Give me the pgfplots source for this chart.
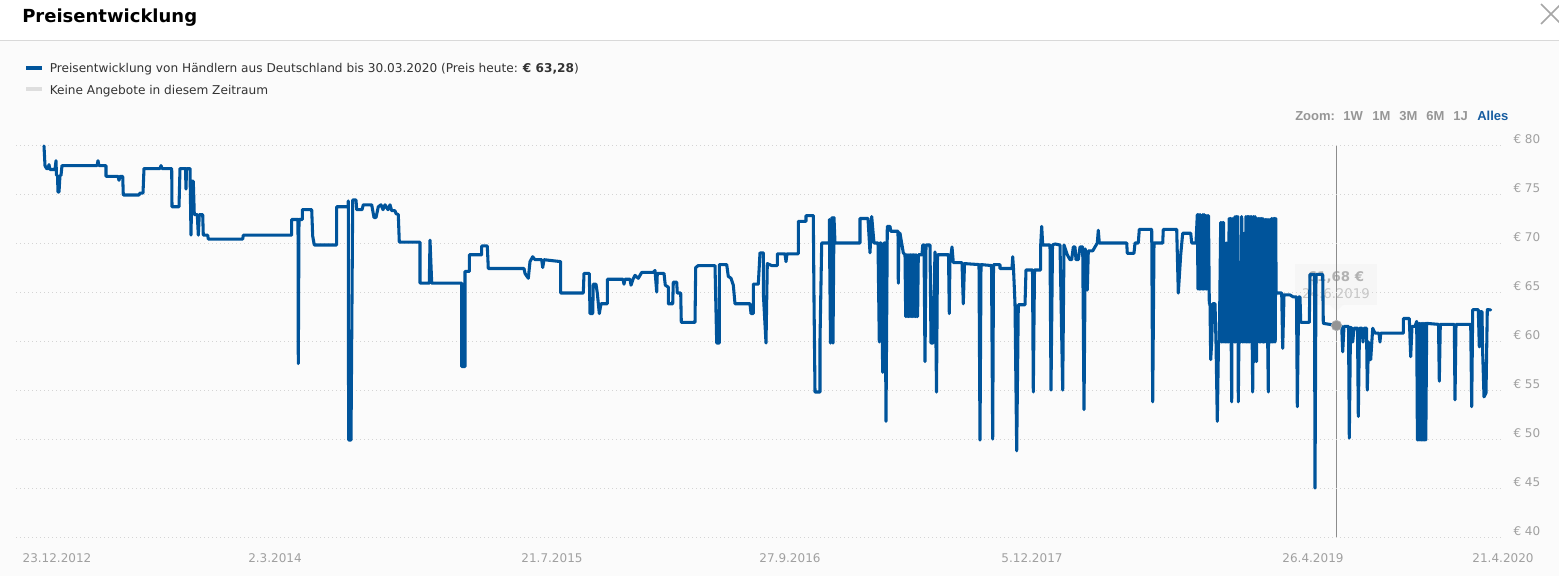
\documentclass[border=0pt]{standalone}
\usepackage{pgfplots}
\pgfplotsset{compat=1.18}
\usepackage{fontspec}
\setmainfont{DejaVu Sans}
\newfontfamily\arialfont{Liberation Sans}
\definecolor{lineblue}{RGB}{0,84,155}
\definecolor{lblgray}{RGB}{160,160,160}
\definecolor{gridgray}{RGB}{212,212,212}
\definecolor{bggray}{RGB}{251,251,251}
\definecolor{zoomgray}{RGB}{150,150,150}
\definecolor{allesblue}{RGB}{22,92,160}

\pgfplotstableread{
x y
44 80
45 78.0
46.5 77.7
48 77.7
49 78.1
50 77.6
55 77.6
56 78.5
56.5 77.0
57.5 77.0
58 75.3
59 75.3
60 77.0
61 77.0
62 78.0
97 78.0
98 78.5
99 78.0
106 78.0
106 76.9
118 76.9
119 76.5
120 76.9
122.7 76.9
123.3 75.0
139 75.0
140 75.2
143 75.2
144 77.7
160 77.7
161 78.0
162 77.7
171.7 77.7
172 73.8
179 73.8
180 77.7
185.5 77.7
186 75.6
186.5 77.7
190 77.7
191 70.9
192 76.4
193.3 76.4
194.3 73.0
197.3 73.0
198.3 70.9
199.3 73.0
202.7 73.0
203.3 70.9
207.7 70.9
208.3 70.5
242.7 70.5
243.3 70.9
291.7 70.9
291.7 72.5
298 72.5
298.3 57.8
299 72.5
302.3 72.5
302.3 73.5
311.7 73.5
312.7 70.8
314.3 69.9
336.7 69.9
336.7 73.8
348 73.8
348.3 74.4
348.6 50.0
351 50.0
352.7 74.5
356 74.5
356.7 73.5
362 73.5
363.3 74.0
371.7 74.0
374 72.7
376 72.7
378.3 73.8
381 74.0
383 73.5
385 74.0
388 73.5
390 74.0
391.7 73.4
395 73.4
396 73.1
398.3 73.0
399.3 70.2
420 70.2
420 66.0
429.3 66.0
430 70.4
431.7 66.0
461.7 66.0
461.7 57.5
465 57.5
465 67.2
469.3 67.2
469.3 68.9
481.7 68.9
481.7 69.8
487.3 69.8
488.3 67.5
524 67.5
525 67.0
528.3 66.5
530 68.2
532.7 68.7
535 68.4
541.7 68.4
542.7 67.6
544 68.4
560.7 68.2
560.7 65.0
583.3 65.0
584 67.0
589.3 67.0
590 62.9
592.7 62.9
593.3 65.9
596 65.9
597.3 65.0
599.3 62.9
601 63.9
607.3 63.9
607.3 66.4
623 66.4
624 65.9
625 66.4
630 66.4
631 65.8
633 66.4
635 66.8
638.3 66.5
641.7 67.1
653 67.1
655 67.3
656.7 65.1
657.3 67.0
664 67.0
665.3 65.8
668.3 65.6
668.3 63.9
672.7 63.9
673.3 66.1
676.7 66.1
677.3 65.0
680.7 65.0
681.3 62.0
695 62.0
695.7 67.6
698.3 67.8
715 67.8
716.7 59.9
719.3 59.9
719.3 67.9
726.7 67.9
728.3 66.7
731 66.5
733.3 65.8
735 63.9
750 63.9
751 62.9
753.3 62.9
753.3 65.9
758.3 65.9
760 69.1
763.3 69.1
763.3 65.0
766 59.9
767.3 68.0
771.7 67.8
777.3 67.8
777.3 69.0
785 69.0
786 68.2
787 69.0
798.3 69.0
798.3 72.3
806 72.3
806 72.9
813.3 72.9
814 64.3
815 54.9
820 54.9
820 60.2
821.7 70.1
829.3 70.1
829.3 72.5
830.5 59.9
832 72.7
833 59.9
834 72.7
835 70.1
860 70.1
860 72.6
868 72.6
870 69.1
871.7 72.8
874 70.1
878 70.1
879.3 60.0
880 70.1
881 70.1
882.7 56.9
884 70.1
885 70.1
886 51.9
887.3 71.8
890 71.8
890.7 71.3
898 71.3
898.3 66.0
899 71.1
900 71.1
903.3 69.1
905 68.9
905.7 62.6
906.4 68.9
907.1 62.6
907.8 68.9
908.5 62.6
909.2 68.9
909.9 62.6
910.6 68.9
911.3 62.6
912.0 68.9
912.7 62.6
913.4 68.9
914.1 62.6
914.8 68.9
915.5 62.6
916.2 68.9
916.9 62.6
917.6 62.6
918.3 68.9
922 68.9
922.7 69.9
924 69.9
925 58.0
926 69.9
930 69.9
931 59.9
933 59.9
935 69.2
936.5 54.9
937.5 68.9
948.5 68.9
949.3 62.9
950 68.9
951 68.9
952 69.7
953.3 68.1
962 68.1
963.3 63.9
964.5 68.0
979 67.9
980 50.0
981 67.9
991.5 67.8
992.7 50.1
993.5 67.9
1000 67.9
1000 67.5
1012 67.5
1012.7 68.7
1013.5 67.5
1015 63.9
1016.7 48.9
1018.3 63.8
1025 63.8
1026 67.35
1032.5 67.35
1033.3 54.9
1034.5 67.35
1040.7 67.35
1040.7 69.9
1041.7 71.8
1042.7 69.9
1050 69.9
1051 55.1
1052.5 69.9
1055 70.0
1060 69.9
1062.7 55.1
1064 69.9
1067.3 68.9
1070 68.4
1071.7 68.4
1073.3 69.7
1075 69.7
1076 68.4
1078.3 68.4
1080 69.7
1082.7 69.7
1084 53.1
1085.3 69.5
1087.3 65.3
1088.3 69.3
1092.7 69.3
1095 69.7
1097.3 70.1
1098.3 71.4
1099.3 70.1
1126.7 70.1
1127.3 69.05
1134 69.05
1135 70.1
1138.3 70.1
1139.3 71.5
1151.7 71.5
1152.7 53.9
1154 70.1
1162.7 70.1
1163.3 71.5
1176.7 71.5
1178.3 65.0
1180.7 68.9
1182.7 71.1
1190.7 71.1
1191.7 70.1
1196 70.1
1197.3 73.0
1198.0 65.4
1198.7 73.0
1199.4 65.4
1200.1 73.0
1200.8 65.4
1201.5 72.8
1202.2 65.4
1202.9 73.0
1203.6 65.4
1204.3 73.0
1205.0 65.4
1205.7 72.9
1206.4 65.4
1207.1 72.9
1207.8 65.4
1208.5 72.9
1209.3 63.9
1210 63.9
1210.7 58.2
1211.7 60.0
1212.7 63.9
1215 63.9
1216 60.0
1217.3 51.9
1218.5 60.0
1219.3 60.0
1220.7 72.2
1221.4 60.0
1222.1 72.2
1222.8 60.0
1223.5 72.2
1224.2 60.0
1224.9 70.1
1225.6 60.0
1226.3 70.1
1227.0 60.0
1227.7 70.1
1228.4 60.0
1229.1 72.6
1229.8 60.0
1230.5 72.6
1231.2 60.0
1231.7 53.9
1232.2 72.6
1232.9 60.0
1233.6 72.6
1234.3 60.0
1235.0 72.8
1235.7 60.0
1236.4 72.8
1237.1 60.0
1237.8 72.8
1238.3 53.9
1238.9 60.0
1240.5 60.0
1241.7 72.8
1242.4 60.0
1243.1 71.1
1243.8 60.0
1244.5 71.1
1245.2 60.0
1245.9 72.8
1246.6 60.0
1247.3 72.8
1248.0 60.0
1248.7 72.8
1249.4 60.0
1250.1 72.8
1250.8 60.0
1251.5 72.8
1252.2 60.0
1252.7 54.9
1253.3 72.8
1254.0 60.0
1254.5 58.0
1255.1 72.8
1255.8 60.0
1256.5 58.0
1257.2 72.6
1257.9 60.0
1258.6 72.6
1259.3 60.0
1260.0 72.6
1260.7 60.0
1261.4 72.6
1262.1 60.0
1262.8 72.6
1263.5 60.0
1264.2 72.5
1264.9 60.0
1265.6 72.5
1266.3 60.0
1267.0 72.5
1267.7 60.0
1268.3 54.9
1268.9 72.5
1269.6 60.0
1270.3 72.5
1271.0 60.0
1271.7 72.6
1272.4 60.0
1273.1 72.6
1273.8 60.0
1274.5 72.6
1275.2 60.0
1275.9 72.6
1276 65.0
1281.7 65.0
1282.7 59.35
1284 64.8
1290 64.8
1293.3 64.6
1296.5 64.6
1297.3 53.4
1298.7 64.6
1300 64.6
1300.7 62.0
1309.3 62.0
1310 66.9
1314.5 66.9
1315 45.1
1316 66.9
1322.7 66.9
1323.3 61.9
1336 61.7
1341.7 61.6
1342.7 59.0
1344 61.6
1348.5 61.6
1349.3 50.2
1350.5 61.5
1351.7 61.4
1352.7 60.0
1354 61.4
1357.5 61.4
1358.3 52.4
1359.5 61.4
1362 61.4
1363 60.0
1364 61.4
1366.5 61.4
1367.3 55.1
1368.5 60.0
1369.3 58.2
1370.7 58.2
1372.7 61.4
1375 60.9
1379 60.9
1380 60.0
1380.7 60.9
1403.3 60.9
1403.3 62.4
1409.3 62.4
1410.7 58.5
1412 61.6
1415 61.6
1416.7 62.1
1417.4 50.0
1418.1 61.9
1418.8 50.0
1419.5 61.9
1420.2 50.0
1420.9 61.9
1421.6 50.0
1422.3 61.9
1423.0 50.0
1423.7 61.9
1424.4 50.0
1425.1 61.9
1425.8 50.0
1426.7 61.9
1438.5 61.8
1439.3 56.0
1440.3 61.8
1454.3 61.8
1455 54.1
1456 61.8
1470.7 61.8
1471.7 53.4
1472.7 63.3
1478.3 63.3
1479.3 59.5
1480.5 63.1
1482 63.1
1482.5 59.5
1484 54.4
1486 54.8
1487.3 63.3
1490.7 63.28
}\pricedata

\begin{document}
\begin{tikzpicture}
\useasboundingbox (0,0) rectangle (1169.25bp,432bp);
\begin{scope}[x=0.75bp,y=-0.75bp,yshift=432bp]
  % backgrounds
  \fill[white] (0,0) rectangle (1559,40);
  \fill[bggray] (0,40) rectangle (1559,576);
  \draw[black!15, line width=0.9bp] (0,40.5) -- (1559,40.5);
  % title
  \node[anchor=base west, inner sep=0pt] at (22,22.5)
     {\fontsize{13.5bp}{16bp}\selectfont\bfseries Preisentwicklung};
  % close icon
  \draw[black!35, line width=1.3bp] (1541,4) -- (1561,24) (1541,24) -- (1561,4);
  % legend
  \fill[lineblue] (26,65.8) rectangle (41.7,69.8);
  \node[anchor=base west, inner sep=0pt, text=black!80] at (49.5,72.2)
     {\fontsize{9.1bp}{10bp}\selectfont Preisentwicklung von Händlern aus Deutschland bis 30.03.2020 (Preis heute: \textbf{€ 63,28})};
  \fill[black!13] (26,86.8) rectangle (41.7,90.8);
  \node[anchor=base west, inner sep=0pt, text=black!80] at (49.5,94.3)
     {\fontsize{9.1bp}{10bp}\selectfont Keine Angebote in diesem Zeitraum};
  % zoom buttons
  \begin{scope}[every node/.style={anchor=base west, inner sep=0pt, font=\arialfont\bfseries\fontsize{9.75bp}{11bp}\selectfont}]
    \node[text=zoomgray] at (1295,120.5) {Zoom:};
    \node[text=zoomgray] at (1343,120.5) {1W};
    \node[text=zoomgray] at (1372,120.5) {1M};
    \node[text=zoomgray] at (1399,120.5) {3M};
    \node[text=zoomgray] at (1426,120.5) {6M};
    \node[text=zoomgray] at (1453,120.5) {1J};
    \node[text=allesblue] at (1477,120.5) {Alles};
  \end{scope}
  % fading tooltip
  \fill[black!4, opacity=0.8] (1295,264) rectangle (1377,305);
  \fill[black!4, opacity=0.8] (1330,305) -- (1336.5,311) -- (1343,305) -- cycle;
  \node[anchor=center, inner sep=0pt, text=black!30] at (1336,277.5)
     {\fontsize{10bp}{12bp}\selectfont\bfseries 61,68 €};
  \node[anchor=center, inner sep=0pt, text=black!22] at (1336,293.5)
     {\fontsize{10bp}{12bp}\selectfont 24.6.2019};
  % crosshair
  \draw[black!45, line width=0.75bp] (1336.7,146) -- (1336.7,538);
\end{scope}

\begin{axis}[
  at={(12bp,28.5bp)}, anchor=south west,
  width=1115.25bp, height=294bp, scale only axis,
  xmin=16, xmax=1503, ymin=40, ymax=80,
  axis line style={draw=none},
  major tick length=0pt,
  ymajorgrids,
  grid style={gridgray, line width=0.75bp, dash pattern=on 0.75bp off 2.25bp},
  ytick={40,45,50,55,60,65,70,75,80},
  yticklabels={€ 40,€ 45,€ 50,€ 55,€ 60,€ 65,€ 70,€ 75,€ 80},
  yticklabel pos=right,
  yticklabel style={anchor=base west, inner sep=0pt, xshift=7.7bp, yshift=1.9bp,
     font=\fontsize{9bp}{10bp}\selectfont, text=lblgray},
  xtick={57,275,552,790,1032,1313,1503},
  xticklabels={23.12.2012,2.3.2014,21.7.2015,27.9.2016,5.12.2017,26.4.2019,21.4.2020},
  xticklabel style={anchor=base, inner sep=0pt, yshift=-18.4bp,
     font=\fontsize{9bp}{10bp}\selectfont, text=lblgray},
  clip=false,
]
\addplot[lineblue, line width=2.3bp, line join=round, line cap=round, mark=none] table[x=x,y=y] {\pricedata};
\addplot[only marks, mark=*, mark size=3.9bp, mark options={fill=black!42, draw=black!30, line width=0.5bp}] coordinates {(1336.5,61.68)};
\end{axis}
\end{tikzpicture}
\end{document}
